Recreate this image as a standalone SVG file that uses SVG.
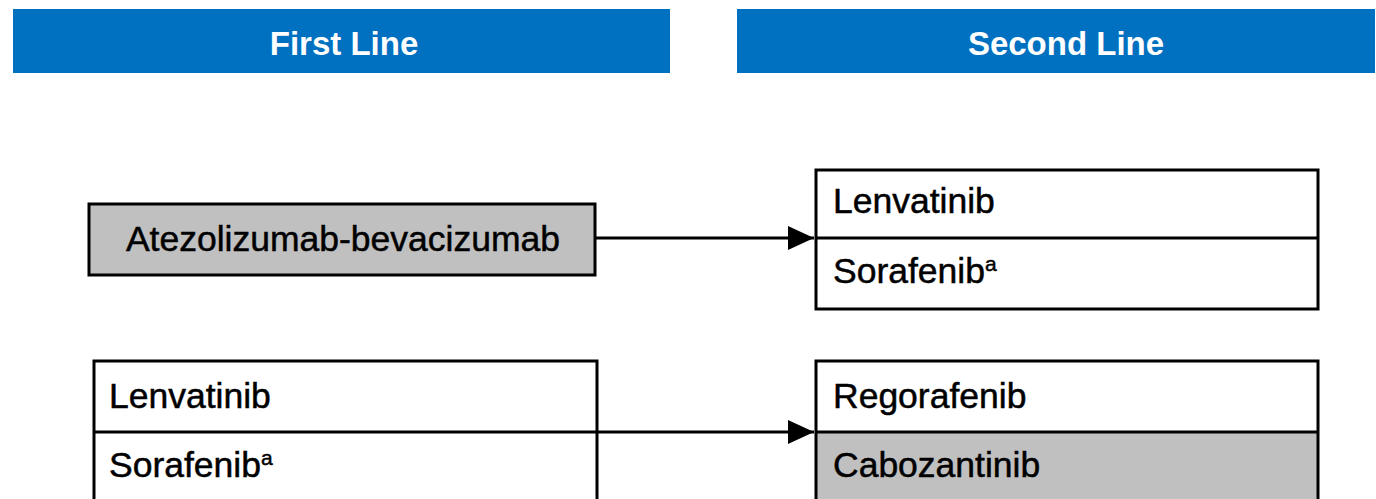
<svg xmlns="http://www.w3.org/2000/svg" width="1376" height="499" viewBox="0 0 1376 499">
<defs>
<style>
.hdr{fill:#0070c0}
.ht{font-family:"Liberation Sans",Arial,sans-serif;font-weight:bold;font-size:33px;fill:#fff;text-anchor:middle}
.box{stroke:#000;stroke-width:3}
.t{font-family:"Liberation Sans",Arial,sans-serif;font-size:35.5px;fill:#000;stroke:#000;stroke-width:0.5}
.sup{font-size:21px}
.ln{stroke:#000;stroke-width:3;fill:none}
</style>
<marker id="arr" viewBox="0 0 26 26" refX="26" refY="13" markerWidth="26" markerHeight="26" markerUnits="userSpaceOnUse" orient="auto">
<path d="M0,1 L26,13 L0,25 z" fill="#000"/>
</marker>
</defs>
<rect width="1376" height="499" fill="#fff"/>
<g id="header-first">
<rect class="hdr" x="13" y="9" width="657" height="64"/>
<text class="ht" x="344" y="55">First Line</text>
</g>
<g id="header-second">
<rect class="hdr" x="737" y="9" width="638" height="64"/>
<text class="ht" x="1066" y="55">Second Line</text>
</g>
<g id="connectors">
<line class="ln" x1="595" y1="238" x2="814" y2="238" marker-end="url(#arr)"/>
<line class="ln" x1="597" y1="432" x2="814" y2="432" marker-end="url(#arr)"/>
</g>
<g id="node-atezo">
<rect class="box" x="89" y="204" width="506" height="71" fill="#c0c0c0"/>
<text class="t" x="343" y="251" text-anchor="middle">Atezolizumab-bevacizumab</text>
</g>
<g id="node-second-top">
<rect class="box" x="816" y="170" width="502" height="139" fill="#fff"/>
<line class="box" x1="816" y1="238" x2="1318" y2="238"/>
<text class="t" x="833" y="213">Lenvatinib</text>
<text class="t" x="833" y="283">Sorafenib<tspan class="sup" dy="-12">a</tspan></text>
</g>
<g id="node-first-bottom">
<rect class="box" x="94" y="361" width="503" height="145" fill="#fff"/>
<line class="box" x1="94" y1="432" x2="597" y2="432"/>
<text class="t" x="109" y="408">Lenvatinib</text>
<text class="t" x="109" y="477">Sorafenib<tspan class="sup" dy="-12">a</tspan></text>
</g>
<g id="node-second-bottom">
<rect x="816" y="432" width="502" height="74" fill="#c0c0c0"/>
<rect class="box" x="816" y="361" width="502" height="145" fill="none"/>
<line class="box" x1="816" y1="432" x2="1318" y2="432"/>
<text class="t" x="833" y="408">Regorafenib</text>
<text class="t" x="833" y="477">Cabozantinib</text>
</g>
</svg>
